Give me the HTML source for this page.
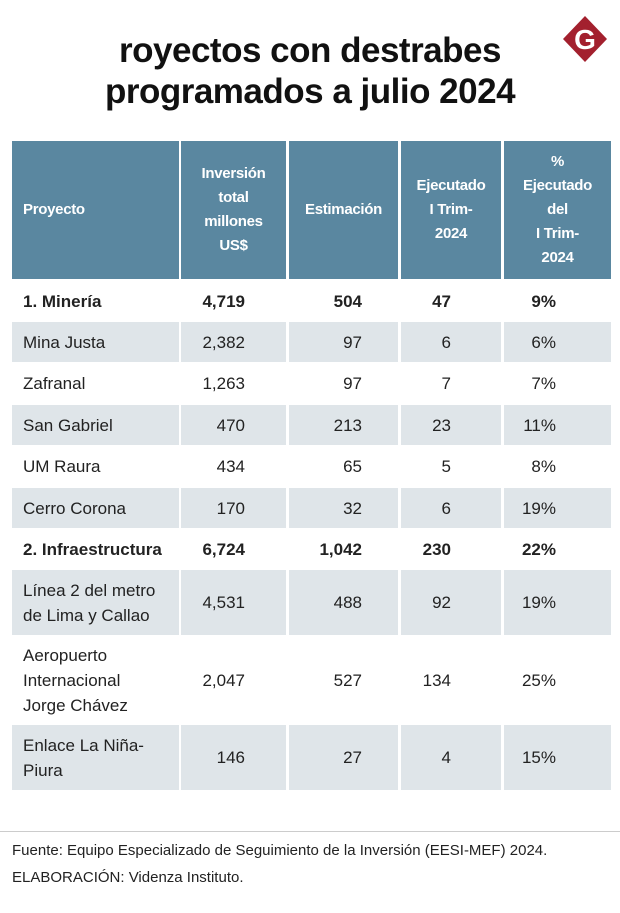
<!DOCTYPE html>
<html><head><meta charset="utf-8">
<style>
body{margin:0;background:#fff;width:620px;height:913px;position:relative;overflow:hidden;font-family:"Liberation Sans",sans-serif;}
.t{position:absolute;left:0;width:620px;text-align:center;font-family:"Liberation Sans",sans-serif;font-weight:bold;font-size:35px;color:#111;line-height:40px;letter-spacing:-0.5px;}
.c{position:absolute;box-sizing:border-box;}
.h{background:#5a87a0;color:#fff;font-family:"Liberation Sans",sans-serif;font-weight:bold;font-size:15px;line-height:24px;letter-spacing:-0.3px;display:flex;align-items:center;justify-content:center;text-align:center;}
.txt{position:absolute;font-size:17px;line-height:25px;color:#222;font-family:"Liberation Sans",sans-serif;}
.foot{position:absolute;left:12px;font-size:15px;color:#222;font-family:"Liberation Sans",sans-serif;}
</style></head><body>
<div class="t" style="top:31px">royectos con destrabes</div>
<div class="t" style="top:72px">programados a julio 2024</div>
<svg style="position:absolute;left:561px;top:14px" width="48" height="50" viewBox="0 0 48 50">
<polygon points="24,2 46,25 24,48 2,25" fill="#a3202e"/>
<text x="24" y="35" text-anchor="middle" font-family="Liberation Sans,sans-serif" font-weight="bold" font-size="28" fill="#fff">G</text>
</svg>
<div id="tbl"></div>
<div style="position:absolute;left:0;top:831px;width:620px;height:1px;background:#ccc"></div>
<div class="foot" style="top:842px">Fuente: Equipo Especializado de Seguimiento de la Inversión (EESI-MEF) 2024.</div>
<div class="foot" style="top:869px">ELABORACIÓN: Videnza Instituto.</div>
<script>
const headers=["Proyecto","Inversión<br>total<br>millones<br>US$","Estimación","Ejecutado<br>I Trim-<br>2024","%<br>Ejecutado<br>del<br>I Trim-<br>2024"];
const projects=["1. Minería","Mina Justa","Zafranal","San Gabriel","UM Raura","Cerro Corona","2. Infraestructura","Línea 2 del metro<br>de Lima y Callao","Aeropuerto<br>Internacional<br>Jorge Chávez","Enlace La Niña-<br>Piura"];
const inversion=["4,719","2,382","1,263","470","434","170","6,724","4,531","2,047","146"];
const estimacion=["504","97","97","213","65","32","1,042","488","527","27"];
const ejecutado=["47","6","7","23","5","6","230","92","134","4"];
const pct=["9%","6%","7%","11%","8%","19%","22%","19%","25%","15%"];
const bold=[1,0,0,0,0,0,1,0,0,0];
const shaded=[0,1,0,1,0,1,0,1,0,1];
const rowH=[41,41,42,41,42,41,41,66,89,66];
const colX=[12,181,289,401,504], colW=[167,105,109,100,107];
const rightEdge=[0,245,362,451,556];
const tbl=document.getElementById('tbl');
headers.forEach((h,i)=>{
 const d=document.createElement('div');d.className='c h';
 
 
 d.style.cssText=`left:${colX[i]}px;top:141px;width:${colW[i]}px;height:138px;`+(i==0?'justify-content:flex-start;padding-left:11px;':'');
 d.innerHTML=h;tbl.appendChild(d);
});
let y=281;
projects.forEach((p,r)=>{
 const vals=[p,inversion[r],estimacion[r],ejecutado[r],pct[r]];
 for(let i=0;i<5;i++){
  if(shaded[r]){
   const bg=document.createElement('div');bg.className='c';
   
   
   bg.style.cssText=`left:${colX[i]}px;top:${y}px;width:${colW[i]}px;height:${rowH[r]-1}px;background:#dfe5e9;`;
   tbl.appendChild(bg);
  }
  const t=document.createElement('div');t.className='txt';
  
  
  const lines=(vals[i].match(/<br>/g)||[]).length+1;
  const top=y+(rowH[r]-1-lines*25)/2;
  if(i==0) t.style.cssText=`left:23px;top:${top}px;`;
  else t.style.cssText=`right:${620-rightEdge[i]}px;top:${top}px;text-align:right;`;
  if(bold[r]) t.style.fontWeight='bold';
  t.innerHTML=vals[i];tbl.appendChild(t);
 }
 y+=rowH[r];
});
</script>
</body></html>
